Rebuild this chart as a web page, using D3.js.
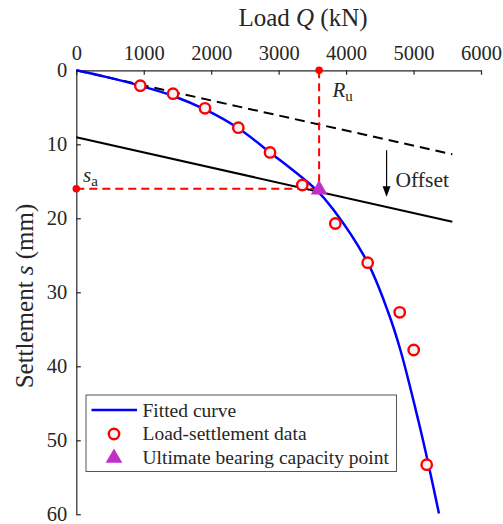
<!DOCTYPE html>
<html>
<head>
<style>
  body { margin: 0; background: #fff; }
  text { font-family: "Liberation Serif", "Times New Roman", serif; fill: #262626; }
</style>
</head>
<body>
<script src="https://d3js.org/d3.v7.min.js"></script>
<script>
// load-settlement test data (kN, mm)
const loadQ = [949, 1434, 1908, 2402, 2872, 3351, 3840, 4320, 4795, 5002, 5195]
const settleS = [2.08, 3.16, 5.14, 7.76, 11.1, 15.5, 20.7, 26.0, 32.7, 37.8, 53.3]

// fitted curve
const fitQ = [0, 470, 949, 1438, 1923, 2402, 2872, 3539, 3810, 4320, 4624, 4805, 5070, 5222, 5377]
const fitS = [0, 0.96, 2.09, 3.47, 5.36, 7.84, 11.1, 16.0, 18.8, 26.0, 32.7, 37.8, 47.3, 53.3, 59.9]

// initial tangent and offset line (start, end)
const tangentQ = [0, 5575]
const tangentS = [0, 11.35]
const offsetQ = [0, 5575]
const offsetS = [9.05, 20.46]

// ultimate bearing capacity point
const Ru = 3600
const sa = 16.0

const xTicks = [0, 1000, 2000, 3000, 4000, 5000, 6000]
const yTicks = [0, 10, 20, 30, 40, 50, 60]

const w = 503, h = 524

const x = d3.scaleLinear().domain([0, 6000]).range([76.3, 481])
const y = d3.scaleLinear().domain([0, 60]).range([70.3, 514.3])

const svg = d3.select("body").append("svg").attr("width", w).attr("height", h)
svg.append("rect").attr("width", w).attr("height", h).attr("fill", "#fff")

// axes
const xAxis = d3.axisTop(x).tickValues(xTicks).tickFormat(d3.format("d"))
    .tickSize(-4.5).tickSizeOuter(0).tickPadding(10)
const gx = svg.append("g").attr("transform", "translate(0," + y(0) + ")").call(xAxis)
const yAxis = d3.axisLeft(y).tickValues(yTicks).tickFormat(d3.format("d"))
    .tickSize(-4.5).tickSizeOuter(0).tickPadding(9)
const gy = svg.append("g").attr("transform", "translate(" + x(0) + ",0)").call(yAxis)
;[gx, gy].forEach(g => {
    g.selectAll("path").attr("stroke", "#262626").attr("stroke-width", 1.2)
    g.selectAll("line").attr("stroke", "#262626").attr("stroke-width", 1.2)
    g.selectAll("text").attr("font-size", 20.5).attr("fill", "#262626")
        .style("font-family", '"Liberation Serif", "Times New Roman", serif')
})

// axis titles
const xt = svg.append("text").attr("x", 303).attr("y", 26).attr("text-anchor", "middle").attr("font-size", 25)
xt.append("tspan").text("Load ")
xt.append("tspan").attr("font-style", "italic").text("Q")
xt.append("tspan").text(" (kN)")

const yt = svg.append("text").attr("transform", "translate(33,296) rotate(-90)")
    .attr("text-anchor", "middle").attr("font-size", 25)
yt.append("tspan").text("Settlement ")
yt.append("tspan").attr("font-style", "italic").text("s")
yt.append("tspan").text(" (mm)")

// tangent (dashed) and offset line
svg.append("line")
    .attr("x1", x(tangentQ[0])).attr("y1", y(tangentS[0]))
    .attr("x2", x(tangentQ[1])).attr("y2", y(tangentS[1]))
    .attr("stroke", "#000").attr("stroke-width", 2).attr("stroke-dasharray", "10,6")
svg.append("line")
    .attr("x1", x(offsetQ[0])).attr("y1", y(offsetS[0]))
    .attr("x2", x(offsetQ[1])).attr("y2", y(offsetS[1]))
    .attr("stroke", "#000").attr("stroke-width", 2)

// red dashed guides
svg.append("line")
    .attr("x1", x(Ru)).attr("y1", y(0)).attr("x2", x(Ru)).attr("y2", y(sa))
    .attr("stroke", "#ff0000").attr("stroke-width", 2).attr("stroke-dasharray", "8,5")
svg.append("line")
    .attr("x1", x(0)).attr("y1", y(sa)).attr("x2", x(Ru)).attr("y2", y(sa))
    .attr("stroke", "#ff0000").attr("stroke-width", 2).attr("stroke-dasharray", "8,5")
svg.append("circle").attr("cx", x(Ru)).attr("cy", y(0)).attr("r", 3.8).attr("fill", "#ff0000")
svg.append("circle").attr("cx", x(0)).attr("cy", y(sa)).attr("r", 3.8).attr("fill", "#ff0000")

// fitted curve
const fit = fitQ.map((q, i) => [q, fitS[i]])
const line = d3.line().x(d => x(d[0])).y(d => y(d[1])).curve(d3.curveCatmullRom.alpha(0.5))
svg.append("path").datum(fit).attr("d", line)
    .attr("fill", "none").attr("stroke", "#0000ff").attr("stroke-width", 2.5)

// data points
const pts = loadQ.map((q, i) => [q, settleS[i]])
svg.selectAll("circle.dot").data(pts).enter().append("circle")
    .attr("class", "dot")
    .attr("cx", d => x(d[0])).attr("cy", d => y(d[1])).attr("r", 5.2)
    .attr("fill", "#f3f4f8").attr("stroke", "#ff0000").attr("stroke-width", 2.4)

// ultimate point triangle
const tri = d3.symbol().type(d3.symbolTriangle).size(120)
svg.append("path").attr("d", tri)
    .attr("transform", "translate(" + x(Ru) + "," + (y(sa) + 1) + ")")
    .attr("fill", "#c030c8")

// arrow + Offset
const ax = x(4600)
svg.append("line").attr("x1", ax).attr("y1", y(10.8)).attr("x2", ax).attr("y2", y(16.2))
    .attr("stroke", "#000").attr("stroke-width", 1.2)
svg.append("path")
    .attr("d", "M" + (ax - 4) + "," + (y(16.2) - 4) + "L" + (ax + 4) + "," + (y(16.2) - 4) + "L" + ax + "," + (y(17.1)) + "Z")
    .attr("fill", "#000")
svg.append("text").attr("x", ax + 9).attr("y", 187).attr("font-size", 21.5).attr("fill", "#111").text("Offset")

// R_u and s_a labels
const rl = svg.append("text").attr("x", 332.5).attr("y", 97).attr("font-size", 21).attr("fill", "#111")
rl.append("tspan").attr("font-style", "italic").text("R")
rl.append("tspan").attr("font-size", 15).attr("dy", 4).text("u")
const sl = svg.append("text").attr("x", 83).attr("y", 182).attr("font-size", 21).attr("fill", "#111")
sl.append("tspan").attr("font-style", "italic").text("s")
sl.append("tspan").attr("font-size", 15).attr("dy", 4).text("a")

// legend
const lg = svg.append("g")
lg.append("rect").attr("x", 86).attr("y", 395).attr("width", 310.5).attr("height", 76.5)
    .attr("fill", "#fff").attr("stroke", "#555").attr("stroke-width", 1)
lg.append("line").attr("x1", 91.5).attr("x2", 137).attr("y1", 410).attr("y2", 410)
    .attr("stroke", "#0000ff").attr("stroke-width", 2.5)
lg.append("circle").attr("cx", 114).attr("cy", 434).attr("r", 5.2)
    .attr("fill", "#f3f4f8").attr("stroke", "#ff0000").attr("stroke-width", 2.4)
lg.append("path").attr("d", tri).attr("transform", "translate(114,458)").attr("fill", "#c030c8")
const labels = ["Fitted curve", "Load-settlement data", "Ultimate bearing capacity point"]
lg.selectAll("text.lab").data(labels).enter().append("text")
    .attr("class", "lab")
    .attr("x", 142.5).attr("y", (d, i) => 416.5 + i * 23.5)
    .attr("font-size", 19.5).attr("fill", "#111").text(d => d)
</script>
</body>
</html>
